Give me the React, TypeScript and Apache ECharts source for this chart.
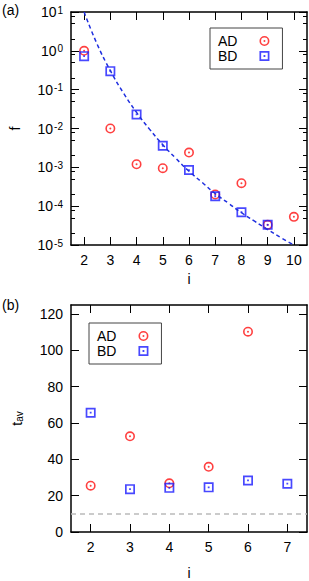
import React, { useEffect, useRef } from 'react';
import * as echarts from 'echarts';

// ---------- data ----------
const topI = [2, 3, 4, 5, 6, 7, 8, 9, 10];
const topAD = [1.0, 0.01, 1.2e-3, 9.5e-4, 2.4e-3, 2.0e-4, 3.9e-4, 3.3e-5, 5.3e-5];
const topBD = [0.73, 0.3, 0.023, 3.6e-3, 8.5e-4, 1.8e-4, 7.0e-5, 3.3e-5];
const fitI = [2, 2.5, 3, 3.5, 4, 4.5, 5, 5.5, 6, 6.5, 7, 7.5, 8, 8.5, 9, 9.5, 10];
const fitF = [10, 1.47, 0.31, 0.082, 0.026, 0.0095, 0.0038, 0.0017, 7.9e-4, 4.1e-4, 2.1e-4, 1.2e-4, 6.8e-5, 4.1e-5, 2.5e-5, 1.55e-5, 1.0e-5];
const topXTicks = [2, 3, 4, 5, 6, 7, 8, 9, 10];
const topYTicks = [1e-5, 1e-4, 1e-3, 1e-2, 1e-1, 1, 10];
const topYMinorTicks = [
  2e-5, 5e-5, 8e-5, 2e-4, 5e-4, 8e-4, 2e-3, 5e-3, 8e-3,
  2e-2, 5e-2, 8e-2, 0.2, 0.5, 0.8, 2, 5, 8,
];

const bottomI = [2, 3, 4, 5, 6, 7];
const bottomAD = [25.5, 52.7, 26.8, 35.9, 110.3];
const bottomBD = [65.7, 23.6, 24.3, 24.6, 28.4, 26.6];
const bottomXTicks = [2, 3, 4, 5, 6, 7];
const bottomYTicks = [0, 20, 40, 60, 80, 100, 120];
const referenceLevel = [10];

// ---------- styles ----------
const FONT = "'Liberation Sans', Arial, sans-serif";
const RED = '#ff1010';
const BLUE = '#1a1aff';
const circleSym =
  'path://M0,5A5,5,0,1,1,10,5A5,5,0,1,1,0,5ZM1.6,5A3.4,3.4,0,1,0,8.4,5A3.4,3.4,0,1,0,1.6,5ZM4,5A1,1,0,1,1,6,5A1,1,0,1,1,4,5Z';
const squareSym =
  'path://M0,0L10,0L10,10L0,10ZM1.7,1.7L1.7,8.3L8.3,8.3L8.3,1.7ZM4.1,4.1L5.9,4.1L5.9,5.9L4.1,5.9Z';

const axisLine = { show: true, onZero: false, lineStyle: { color: '#000', width: 1.5 } };
const majorTick = (vals: number[]) => ({
  show: true,
  inside: true,
  length: 8,
  customValues: vals,
  lineStyle: { color: '#000', width: 1 },
});
const minorTickAxis = (vals: number[]) => ({
  show: true,
  inside: true,
  length: 4,
  customValues: vals,
  lineStyle: { color: '#000', width: 1 },
});
const labelStyle = { color: '#000', fontSize: 14, fontFamily: FONT };

function pairs(xs: number[], ys: number[]) {
  return ys.map((y, k) => [xs[k], y]);
}

function buildOption() {
  const logY = (position: string, ticks: number[], minor: boolean, labels: boolean, extra: any = {}) => ({
    type: 'log',
    logBase: 10,
    gridIndex: 0,
    position,
    min: 1e-5,
    max: 10,
    axisLine: minor ? { show: false } : axisLine,
    axisTick: minor ? minorTickAxis(ticks) : majorTick(ticks),
    axisLabel: labels
      ? {
          show: true,
          margin: 8,
          customValues: ticks,
          formatter: (v: number) => `{b|10}{s|${Math.round(Math.log10(v))}}`,
          rich: {
            b: { fontSize: 14, fontFamily: FONT, color: '#000', lineHeight: 14, verticalAlign: 'bottom' },
            s: { fontSize: 10, fontFamily: FONT, color: '#000', lineHeight: 10, verticalAlign: 'top', padding: [0, 0, 9, 1] },
          },
        }
      : { show: false },
    splitLine: { show: false },
    minorTick: { show: false },
    ...extra,
  });

  const legendBase = {
    orient: 'vertical',
    align: 'right',
    padding: [6, 13, 6, 8],
    itemGap: 1,
    itemWidth: 10,
    itemHeight: 10,
    borderColor: '#444',
    borderWidth: 1,
    textStyle: { color: '#000', fontSize: 14, fontFamily: FONT, lineHeight: 14, padding: [0, 17, 0, 0] },
    data: [
      { name: 'AD', icon: circleSym },
      { name: 'BD', icon: squareSym },
    ],
  };

  return {
    animation: false,
    backgroundColor: '#fff',
    grid: [
      { left: 65, top: 12, width: 242, height: 233 },
      { left: 65, top: 305, width: 242, height: 235 },
    ],
    legend: [
      { ...legendBase, left: 210, top: 28 },
      { ...legendBase, left: 89, top: 323 },
    ],
    xAxis: [
      {
        type: 'value',
        gridIndex: 0,
        position: 'bottom',
        min: 1.5,
        max: 10.5,
        axisLine,
        axisTick: majorTick(topXTicks),
        axisLabel: { ...labelStyle, margin: 8, customValues: topXTicks },
        splitLine: { show: false },
        name: 'i',
        nameLocation: 'middle',
        nameGap: 27,
        nameTextStyle: { color: '#000', fontSize: 14, fontFamily: FONT },
      },
      {
        type: 'value',
        gridIndex: 0,
        position: 'top',
        min: 1.5,
        max: 10.5,
        axisLine,
        axisTick: majorTick(topXTicks),
        axisLabel: { show: false },
        splitLine: { show: false },
      },
      {
        type: 'value',
        gridIndex: 1,
        position: 'bottom',
        min: 1.5,
        max: 7.5,
        axisLine,
        axisTick: majorTick(bottomXTicks),
        axisLabel: { ...labelStyle, margin: 8, customValues: bottomXTicks },
        splitLine: { show: false },
        name: 'i',
        nameLocation: 'middle',
        nameGap: 34,
        nameTextStyle: { color: '#000', fontSize: 14, fontFamily: FONT },
      },
      {
        type: 'value',
        gridIndex: 1,
        position: 'top',
        min: 1.5,
        max: 7.5,
        axisLine,
        axisTick: majorTick(bottomXTicks),
        axisLabel: { show: false },
        splitLine: { show: false },
      },
    ],
    yAxis: [
      logY('left', topYTicks, false, true, {
        name: 'f',
        nameLocation: 'middle',
        nameGap: 49,
        nameRotate: 90,
        nameTextStyle: { color: '#000', fontSize: 14, fontFamily: FONT },
      }),
      logY('left', topYMinorTicks, true, false),
      logY('right', topYTicks, false, false),
      logY('right', topYMinorTicks, true, false),
      {
        type: 'value',
        gridIndex: 1,
        position: 'left',
        min: 0,
        max: 125,
        interval: 20,
        axisLine,
        axisTick: majorTick(bottomYTicks),
        axisLabel: { ...labelStyle, margin: 8, customValues: bottomYTicks },
        splitLine: { show: false },
        name: '{t|t}{s|av}',
        nameLocation: 'middle',
        nameGap: 47,
        nameRotate: 90,
        nameTextStyle: {
          rich: {
            t: { fontSize: 14, fontFamily: FONT, color: '#000', lineHeight: 14, verticalAlign: 'top' },
            s: { fontSize: 10, fontFamily: FONT, color: '#000', lineHeight: 10, verticalAlign: 'bottom', padding: [6, 0, 0, 0] },
          },
        },
      },
      {
        type: 'value',
        gridIndex: 1,
        position: 'right',
        min: 0,
        max: 125,
        interval: 20,
        axisLine,
        axisTick: majorTick(bottomYTicks),
        axisLabel: { show: false },
        splitLine: { show: false },
      },
    ],
    series: [
      {
        name: 'AD',
        type: 'scatter',
        xAxisIndex: 0,
        yAxisIndex: 0,
        symbol: circleSym,
        symbolSize: 10,
        itemStyle: { color: RED },
        data: pairs(topI, topAD),
      },
      {
        name: 'BD',
        type: 'scatter',
        xAxisIndex: 0,
        yAxisIndex: 0,
        symbol: squareSym,
        symbolSize: 10,
        itemStyle: { color: BLUE },
        data: pairs(topI, topBD),
      },
      {
        name: 'fit',
        type: 'line',
        xAxisIndex: 0,
        yAxisIndex: 0,
        smooth: true,
        showSymbol: false,
        symbol: 'none',
        lineStyle: { color: '#1f2fdf', width: 1.5, type: [4, 3] },
        data: pairs(fitI, fitF),
      },
      {
        name: 'AD',
        type: 'scatter',
        xAxisIndex: 2,
        yAxisIndex: 4,
        symbol: circleSym,
        symbolSize: 10,
        itemStyle: { color: RED },
        data: pairs(bottomI, bottomAD),
        markLine: {
          silent: true,
          symbol: 'none',
          label: { show: false },
          lineStyle: { color: '#bbbbbb', width: 1.5, type: [5, 4] },
          data: referenceLevel.map((v) => ({ yAxis: v })),
        },
      },
      {
        name: 'BD',
        type: 'scatter',
        xAxisIndex: 2,
        yAxisIndex: 4,
        symbol: squareSym,
        symbolSize: 10,
        itemStyle: { color: BLUE },
        data: pairs(bottomI, bottomBD),
      },
    ],
    graphic: [
      { type: 'text', left: 2, top: 3, style: { text: '(a)', fontSize: 14, fontFamily: FONT, fill: '#000' } },
      { type: 'text', left: 2, top: 298, style: { text: '(b)', fontSize: 14, fontFamily: FONT, fill: '#000' } },
    ],
  };
}

export default function App() {
  const ref = useRef<HTMLDivElement>(null);
  useEffect(() => {
    if (!ref.current) return;
    const chart = echarts.init(ref.current, null, { renderer: 'svg' });
    chart.setOption(buildOption() as any);
    return () => chart.dispose();
  }, []);
  return (
    <div
      ref={ref}
      style={{ position: 'fixed', left: 0, top: 0, width: 309, height: 581, background: '#fff' }}
    />
  );
}
